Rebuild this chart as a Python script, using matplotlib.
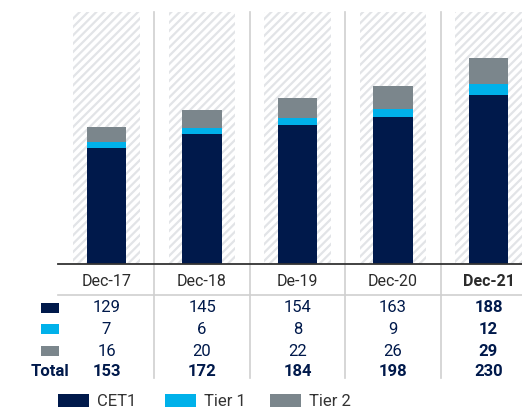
import matplotlib
matplotlib.use('Agg')
import matplotlib.pyplot as plt
from matplotlib.patches import Rectangle

# --- data ---
periods = ['Dec-17', 'Dec-18', 'De-19', 'Dec-20', 'Dec-21']
cet1 = [129, 145, 154, 163, 188]
tier1 = [7, 6, 8, 9, 12]
tier2 = [16, 20, 22, 26, 29]
totals = [153, 172, 184, 198, 230]
series_names = ['CET1', 'Tier 1', 'Tier 2']

NAVY = '#00194b'
CYAN = '#00b1ea'
GREY = '#7b868c'
colors = [NAVY, CYAN, GREY]

plt.rcParams['font.family'] = ['Roboto', 'DejaVu Sans']
plt.rcParams['hatch.linewidth'] = 1.6

W, H = 522, 409
fig = plt.figure(figsize=(W / 100, H / 100), dpi=100)

base_px, top_px = 264, 12
ax = fig.add_axes([58 / W, (H - base_px) / H, 1 - 58 / W, (base_px - top_px) / H])
ax.set_xlim(-0.508, 4.351)
ax.set_ylim(0, 280)
ax.axis('off')


def ay(ypx):
    # pixel row -> axes fraction
    return (base_px - ypx) / (base_px - top_px)


x = list(range(len(periods)))

# hatched background columns
ax.bar(x, [280] * len(x), width=0.70, color='white', edgecolor='#e2e4e7',
       hatch='////', linewidth=0, zorder=1)

# stacked bars
bottom = [0] * len(x)
for vals, c in zip([cet1, tier1, tier2], colors):
    ax.bar(x, vals, bottom=bottom, width=0.41, color=c, linewidth=0, zorder=3)
    bottom = [b + v for b, v in zip(bottom, vals)]

tr = ax.get_xaxis_transform()

# separators
for i in range(len(x) - 1):
    ax.plot([i + 0.5, i + 0.5], [ay(378), 1.0], color='#cfcfcf', lw=1.2,
            transform=tr, clip_on=False, zorder=2)

# baseline and header line
ax.plot([0, 1], [0, 0], color='#333333', lw=1.3, transform=ax.transAxes,
        clip_on=False, zorder=4)
ax.plot([0, 1], [ay(295), ay(295)], color='#cfcfcf', lw=1.2,
        transform=ax.transAxes, clip_on=False, zorder=2)

# table
row_y = [308, 329, 351]
for i, p in enumerate(periods):
    last = i == len(periods) - 1
    ax.text(i, ay(281), p, transform=tr, ha='center', va='center',
            fontsize=11.5, color='#2b2b2b', fontweight='bold' if last else 'normal')
    for yy, vals in zip(row_y, [cet1, tier1, tier2]):
        ax.text(i, ay(yy), str(vals[i]), transform=tr, ha='center', va='center',
                fontsize=12, color=NAVY, fontweight='bold' if last else 'normal')
    ax.text(i, ay(371), str(totals[i]), transform=tr, ha='center', va='center',
            fontsize=12, color=NAVY, fontweight='bold')

# row markers
for yy, c in zip(row_y, colors):
    fig.patches.append(Rectangle((41 / W, (H - yy - 5) / H), 18 / W, 10 / H,
                                 transform=fig.transFigure, color=c, lw=0))
fig.text(69 / W, (H - 371) / H, 'Total', ha='right', va='center',
         fontsize=12, color=NAVY, fontweight='bold')

# legend
leg_x = [58, 165, 270]
for lx, c, name in zip(leg_x, colors, series_names):
    fig.patches.append(Rectangle((lx / W, (H - 407) / H), 31 / W, 13 / H,
                                 transform=fig.transFigure, color=c, lw=0))
    fig.text((lx + 39) / W, (H - 401) / H, name, ha='left', va='center',
             fontsize=12, color='#333333')

fig.savefig('out.png', dpi=100)
